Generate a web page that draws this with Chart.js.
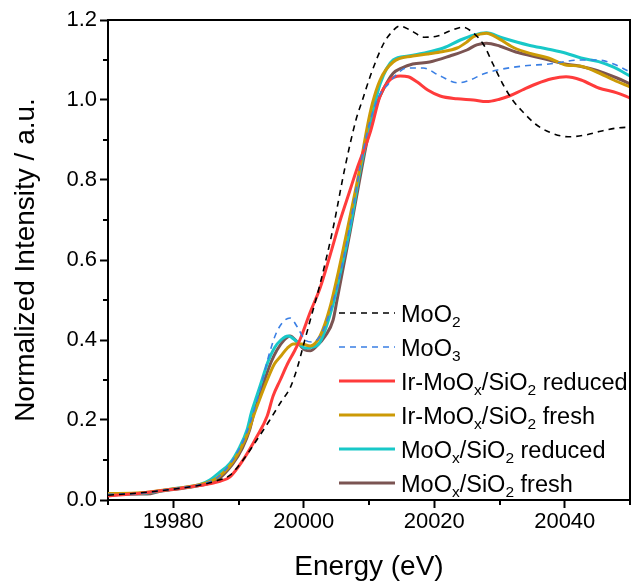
<!DOCTYPE html>
<html>
<head>
<meta charset="utf-8">
<script src="https://cdn.jsdelivr.net/npm/chart.js@4.4.1/dist/chart.umd.min.js"></script>
<style>
  html, body { margin: 0; padding: 0; background: #fff; }
</style>
</head>
<body>
<canvas id="xanes" width="632" height="581"></canvas>
<script>
// Mo K-edge XANES spectra
const moo2E = [19970, 19975, 19980, 19984, 19987, 19988.7, 19990.7, 19992.8, 19994.8, 19996.5, 19997.9, 19999, 20000, 20001, 20002.5, 20004.5, 20006.3, 20008, 20009, 20010.2, 20012.2, 20013.5, 20014.7, 20016.3, 20018.5, 20020.5, 20022.5, 20024.4, 20025.8, 20027.5, 20029, 20030.5, 20032, 20033.6, 20035.5, 20037.6, 20040.5, 20043, 20045.5, 20048, 20050];
const moo2I = [0.012, 0.018, 0.027, 0.037, 0.05, 0.062, 0.10, 0.15, 0.20, 0.245, 0.28, 0.33, 0.39, 0.45, 0.54, 0.68, 0.83, 0.95, 1.0, 1.06, 1.14, 1.17, 1.185, 1.175, 1.157, 1.16, 1.173, 1.182, 1.17, 1.14, 1.09, 1.04, 1.0, 0.97, 0.94, 0.92, 0.908, 0.912, 0.922, 0.93, 0.932];

const moo3E = [19970, 19975, 19980, 19984, 19986.7, 19988.7, 19990.2, 19991.3, 19992.3, 19993.3, 19994.8, 19996, 19997.9, 19999.1, 20000.2, 20001.3, 20002.5, 20004, 20005.5, 20007, 20008.6, 20010.2, 20011.7, 20012.7, 20014, 20015.8, 20018.3, 20020.9, 20023.6, 20025.5, 20027.5, 20029.7, 20033.6, 20037.6, 20042.3, 20045, 20047.5, 20050];
const moo3I = [0.014, 0.017, 0.028, 0.038, 0.055, 0.09, 0.13, 0.17, 0.22, 0.275, 0.37, 0.425, 0.455, 0.43, 0.40, 0.395, 0.41, 0.47, 0.56, 0.68, 0.83, 0.95, 1.015, 1.035, 1.06, 1.08, 1.08, 1.06, 1.043, 1.05, 1.065, 1.075, 1.085, 1.09, 1.10, 1.10, 1.09, 1.07];

const irRedE = [19970, 19975, 19980, 19984, 19987, 19988.7, 19990.7, 19992.8, 19994.4, 19995.3, 19996.4, 19997.5, 19998.5, 19999.4, 20001, 20002.5, 20004, 20005.6, 20007, 20008.2, 20010.2, 20011.7, 20013.2, 20014.8, 20016, 20017.4, 20019, 20020.9, 20023.5, 20026, 20028, 20030, 20031.5, 20033.5, 20035.6, 20038, 20040.2, 20042.5, 20045.2, 20048, 20050];
const irRedI = [0.01, 0.017, 0.027, 0.036, 0.046, 0.058, 0.10, 0.158, 0.21, 0.26, 0.30, 0.34, 0.37, 0.40, 0.47, 0.53, 0.61, 0.70, 0.77, 0.83, 0.92, 1.01, 1.05, 1.06, 1.058, 1.045, 1.025, 1.01, 1.003, 1.0, 0.996, 1.002, 1.01, 1.025, 1.04, 1.053, 1.058, 1.05, 1.03, 1.018, 1.005];

const irFreshE = [19970, 19975, 19980, 19984, 19986.7, 19988.9, 19990.4, 19991.5, 19992.3, 19993.2, 19994.4, 19995.5, 19996.5, 19997.5, 19998.4, 19999.7, 20001, 20002.5, 20004, 20005.3, 20006.6, 20008.6, 20009.7, 20010.5, 20011.7, 20013.7, 20016.7, 20019, 20020.9, 20023.5, 20025, 20026, 20028, 20030, 20032.3, 20035, 20037.5, 20040.3, 20042.3, 20044.9, 20047.5, 20050];
const irFreshI = [0.016, 0.018, 0.028, 0.038, 0.055, 0.09, 0.13, 0.17, 0.21, 0.25, 0.30, 0.34, 0.36, 0.38, 0.39, 0.39, 0.385, 0.41, 0.48, 0.57, 0.67, 0.83, 0.93, 0.99, 1.05, 1.095, 1.11, 1.115, 1.12, 1.13, 1.145, 1.158, 1.167, 1.152, 1.13, 1.115, 1.105, 1.087, 1.085, 1.07, 1.05, 1.033];

const moxRedE = [19970, 19975, 19980, 19984, 19985.6, 19987, 19988.7, 19990.2, 19991.3, 19992, 19992.8, 19993.6, 19994.5, 19995.5, 19996.5, 19997.6, 19999, 20000.2, 20001.3, 20002.5, 20004.5, 20005.5, 20007.1, 20008.6, 20010.6, 20011.7, 20013.7, 20016, 20018.3, 20021.4, 20024, 20026, 20028, 20030.5, 20034.5, 20037.5, 20040.2, 20042.5, 20045.2, 20047.5, 20050];
const moxRedI = [0.013, 0.016, 0.028, 0.038, 0.05, 0.068, 0.092, 0.133, 0.175, 0.22, 0.26, 0.30, 0.345, 0.38, 0.40, 0.41, 0.395, 0.38, 0.382, 0.395, 0.49, 0.56, 0.68, 0.82, 0.97, 1.04, 1.10, 1.11, 1.117, 1.13, 1.15, 1.162, 1.168, 1.155, 1.137, 1.127, 1.117, 1.105, 1.096, 1.082, 1.06];

const moxFreshE = [19970, 19973, 19976, 19978, 19980, 19984, 19986.7, 19989.1, 19990.6, 19991.7, 19992.4, 19993.2, 19994, 19995, 19995.9, 19997, 19997.9, 19999, 20000.2, 20001, 20002, 20003.3, 20004.5, 20005.1, 20007.1, 20008.9, 20010, 20011.2, 20012.3, 20013.7, 20015, 20016.7, 20019.3, 20022.4, 20025, 20026.5, 20028, 20030, 20032.5, 20035, 20037.6, 20040, 20042.2, 20044, 20046, 20048, 20050];
const moxFreshI = [0.012, 0.015, 0.015, 0.022, 0.026, 0.036, 0.05, 0.09, 0.13, 0.175, 0.22, 0.26, 0.30, 0.345, 0.375, 0.40, 0.41, 0.395, 0.375, 0.373, 0.385, 0.41, 0.45, 0.50, 0.67, 0.83, 0.92, 0.99, 1.03, 1.067, 1.08, 1.09, 1.095, 1.11, 1.125, 1.138, 1.142, 1.135, 1.12, 1.11, 1.10, 1.09, 1.085, 1.078, 1.068, 1.055, 1.04];

// "_" marks a one-character subscript
const seriesNames = ['MoO_2', 'MoO_3', 'Ir-MoO_x/SiO_2 reduced', 'Ir-MoO_x/SiO_2 fresh', 'MoO_x/SiO_2 reduced', 'MoO_x/SiO_2 fresh'];

const xMajor = [19980, 20000, 20020, 20040];
const xMinor = [19970, 19990, 20010, 20030, 20050];
const yMajor = [0, 0.2, 0.4, 0.6, 0.8, 1.0, 1.2];
const yMinor = [0.1, 0.3, 0.5, 0.7, 0.9, 1.1];

const FONT = "'Liberation Sans', Arial, sans-serif";

function pts(xs, ys) {
    return xs.map((x, i) => ({ x: x, y: ys[i] }));
}

const styles = [
    { color: '#000000', width: 1.6, dash: [6, 5] },
    { color: '#3a7fe4', width: 1.6, dash: [6, 5] },
    { color: '#ff3b3b', width: 3, dash: [] },
    { color: '#cc9a06', width: 3, dash: [] },
    { color: '#18c8c8', width: 3, dash: [] },
    { color: '#7b5452', width: 3, dash: [] }
];
const series = [
    pts(moo2E, moo2I), pts(moo3E, moo3I), pts(irRedE, irRedI),
    pts(irFreshE, irFreshI), pts(moxRedE, moxRedI), pts(moxFreshE, moxFreshI)
];

const datasets = series.map((d, i) => ({
    label: seriesNames[i].replace(/_/g, ''),
    data: d,
    borderColor: styles[i].color,
    borderWidth: styles[i].width,
    borderDash: styles[i].dash,
    pointRadius: 0,
    fill: false,
    cubicInterpolationMode: 'monotone'
}));

// closes the box and adds the short minor ticks
const framePlugin = {
    id: 'frame',
    afterDraw(chart) {
        const ctx = chart.ctx;
        const a = chart.chartArea;
        const xs = chart.scales.x, ys = chart.scales.y;
        ctx.save();
        ctx.strokeStyle = '#000';
        ctx.lineWidth = 2;
        ctx.beginPath();
        ctx.moveTo(a.left, a.top);
        ctx.lineTo(a.right, a.top);
        ctx.lineTo(a.right, a.bottom);
        ctx.stroke();
        ctx.beginPath();
        xMinor.forEach(v => {
            const px = Math.round(xs.getPixelForValue(v));
            ctx.moveTo(px, a.bottom);
            ctx.lineTo(px, a.bottom + 5);
        });
        yMinor.forEach(v => {
            const py = Math.round(ys.getPixelForValue(v));
            ctx.moveTo(a.left - 5, py);
            ctx.lineTo(a.left, py);
        });
        ctx.stroke();
        ctx.restore();
    }
};

// legend with subscripts, drawn inside the plot area
const subLegend = {
    id: 'subLegend',
    afterDraw(chart) {
        const ctx = chart.ctx;
        const a = chart.chartArea;
        const x0 = a.left + 231, y0 = a.top + 293, rowH = 34;
        ctx.save();
        seriesNames.forEach((name, i) => {
            const y = y0 + i * rowH;
            const st = styles[i];
            ctx.strokeStyle = st.color;
            ctx.lineWidth = st.width;
            ctx.setLineDash(st.dash);
            ctx.beginPath();
            ctx.moveTo(x0, y);
            ctx.lineTo(x0 + 56, y);
            ctx.stroke();
            ctx.setLineDash([]);

            let tx = x0 + 62;
            const base = y + 8.5;
            ctx.fillStyle = '#000';
            ctx.textBaseline = 'alphabetic';
            ctx.textAlign = 'left';
            for (let k = 0; k < name.length; k++) {
                let ch = name[k];
                if (ch === '_') {
                    ch = name[++k];
                    ctx.font = '15.5px ' + FONT;
                    ctx.fillText(ch, tx, base + 5);
                } else {
                    ctx.font = '23.5px ' + FONT;
                    ctx.fillText(ch, tx, base);
                }
                tx += ctx.measureText(ch).width;
            }
        });
        ctx.restore();
    }
};

new Chart(document.getElementById('xanes'), {
    type: 'line',
    data: { datasets: datasets },
    options: {
        responsive: false,
        animation: false,
        layout: { padding: { top: 20, right: 2, left: 0, bottom: 0 } },
        plugins: {
            legend: { display: false },
            tooltip: { enabled: false }
        },
        scales: {
            x: {
                type: 'linear',
                position: 'bottom',
                min: 19970,
                max: 20050,
                afterFit(s) { s.height = 81; },
                afterBuildTicks(s) { s.ticks = xMajor.map(v => ({ value: v })); },
                grid: { drawOnChartArea: false, tickLength: 8, tickWidth: 2, tickColor: '#000' },
                border: { color: '#000', width: 2 },
                ticks: {
                    color: '#000',
                    font: { family: FONT, size: 22 },
                    padding: 1,
                    maxRotation: 0,
                    callback: v => String(v)
                },
                title: {
                    display: true,
                    text: 'Energy (eV)',
                    color: '#000',
                    font: { family: FONT, size: 28, lineHeight: 1 },
                    padding: { top: 0, bottom: 0 }
                }
            },
            y: {
                type: 'linear',
                min: 0,
                max: 1.2,
                afterFit(s) { s.width = 108; },
                afterBuildTicks(s) { s.ticks = yMajor.map(v => ({ value: v })); },
                grid: { drawOnChartArea: false, tickLength: 8, tickWidth: 2, tickColor: '#000' },
                border: { color: '#000', width: 2 },
                ticks: {
                    color: '#000',
                    font: { family: FONT, size: 22 },
                    padding: 3,
                    callback: v => v.toFixed(1)
                },
                title: {
                    display: true,
                    text: 'Normalized Intensity / a.u.',
                    color: '#000',
                    font: { family: FONT, size: 28, lineHeight: 1 },
                    padding: { top: 12, bottom: 0 }
                }
            }
        }
    },
    plugins: [framePlugin, subLegend]
});
</script>
</body>
</html>
